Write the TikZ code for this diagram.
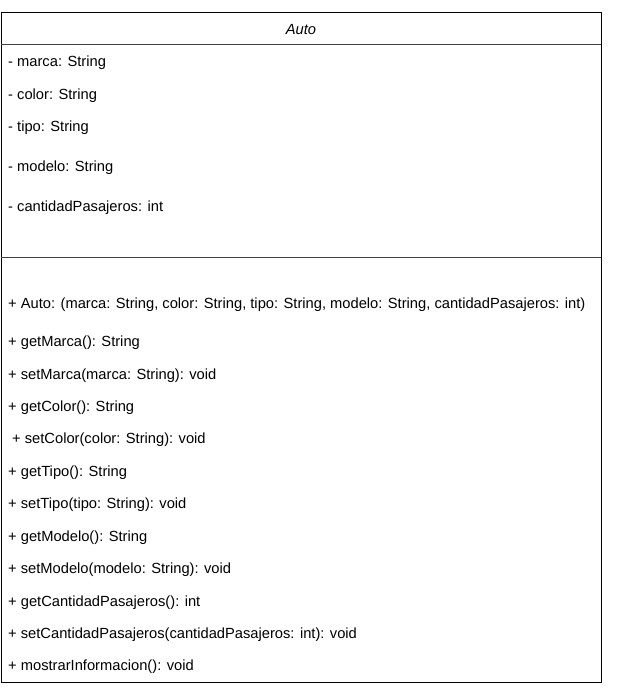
\documentclass[tikz,border=0pt]{standalone}
\usepackage{fontspec}
\setmainfont{Liberation Sans}
\usetikzlibrary{positioning}

\tikzset{
  miembro/.style={anchor=west, inner sep=0pt, font=\fontsize{14.7}{17}\selectfont},
  caja/.style={draw=black, line width=0.9pt}
}

\begin{document}
\begin{tikzpicture}[x=1pt,y=-1pt]
    \useasboundingbox (0,0) rectangle (617,697);
    % clase Auto
    \draw[caja] (1,12) rectangle (601,682);
    \draw[caja, draw=black!75] (1,44) -- (601,44);
    \draw[caja, draw=black!75] (1,257) -- (601,257);
    \node[miembro, anchor=center, font=\fontsize{14.7}{17}\selectfont\itshape] (titulo) at (301,29.5) {Auto};

    % atributos
    \node[miembro] (marca) at (8,62.5) {- marca: String};
    \node[miembro] (color) at (8,95.5) {- color: String};
    \node[miembro] (tipo) at (8,127.5) {- tipo: String};
    \node[miembro] (modelo) at (8,167.5) {- modelo: String};
    \node[miembro] (pasajeros) at (8,207.5) {- cantidadPasajeros: int};

    % metodos
    \node[miembro] (constructor) at (8,304.5) {+ Auto: (marca: String, color: String, tipo: String, modelo: String, cantidadPasajeros: int)};
    \node[miembro] (getMarca) at (8,342.5) {+ getMarca(): String};
    \node[miembro] (setMarca) at (8,375.5) {+ setMarca(marca: String): void};
    \node[miembro] (getColor) at (8,407.5) {+ getColor(): String};
    \node[miembro] (setColor) at (12,439.5) {+ setColor(color: String): void};
    \node[miembro] (getTipo) at (8,472.5) {+ getTipo(): String};
    \node[miembro] (setTipo) at (8,504.5) {+ setTipo(tipo: String): void};
    \node[miembro] (getModelo) at (8,537.5) {+ getModelo(): String};
    \node[miembro] (setModelo) at (8,569.5) {+ setModelo(modelo: String): void};
    \node[miembro] (getPasajeros) at (8,602.5) {+ getCantidadPasajeros(): int};
    \node[miembro] (setPasajeros) at (8,634.5) {+ setCantidadPasajeros(cantidadPasajeros: int): void};
    \node[miembro] (mostrar) at (8,666.5) {+ mostrarInformacion(): void};
\end{tikzpicture}
\end{document}
